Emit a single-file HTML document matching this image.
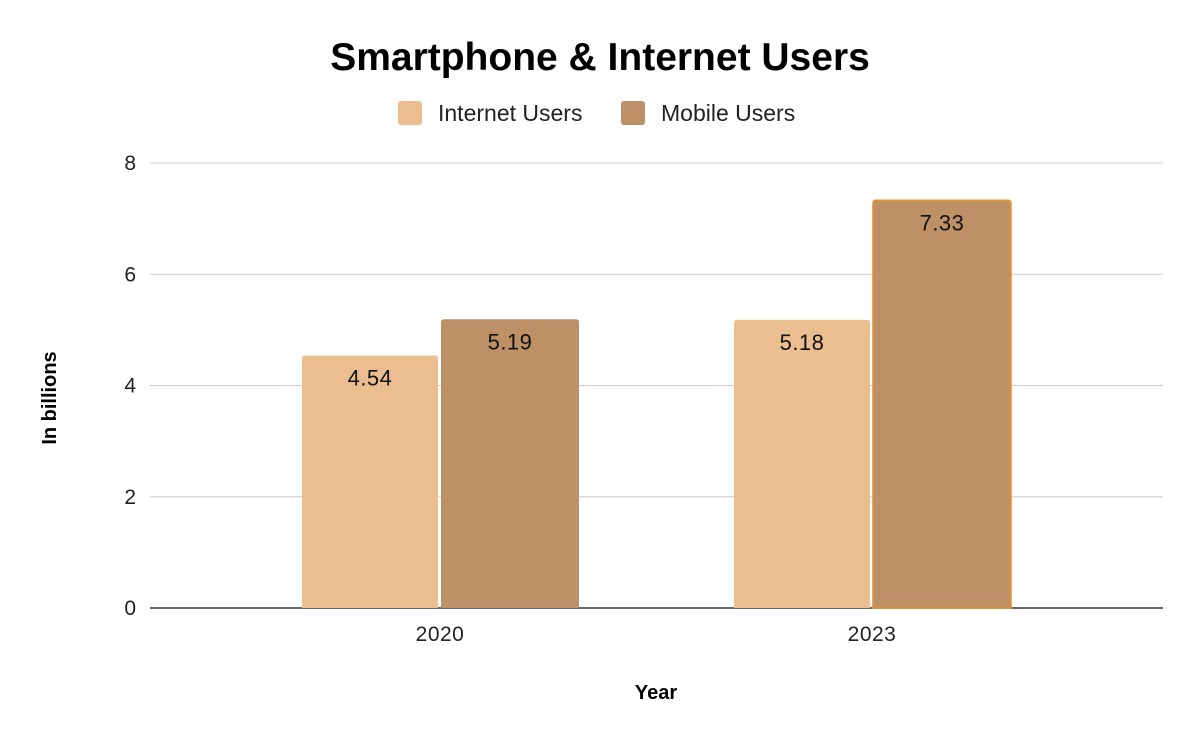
<!DOCTYPE html>
<html><head><meta charset="utf-8"><style>
body{margin:0;background:#fff;}
svg{display:block;font-family:"Liberation Sans",Arial,sans-serif;}
</style></head><body>
<svg id="chart" width="1200" height="742">
<text x="600" y="70" text-anchor="middle" font-size="39" font-weight="bold" fill="#000">Smartphone &amp; Internet Users</text>
<g>
<rect x="398" y="101" width="24" height="24" rx="3" fill="#ebbe90"/>
<text x="438" y="121" font-size="23" fill="#222">Internet Users</text>
<rect x="621" y="101" width="24" height="24" rx="3" fill="#bd9165"/>
<text x="661" y="121" font-size="23" fill="#222">Mobile Users</text>
</g>
<text transform="translate(56,398) rotate(-90)" text-anchor="middle" font-size="20" font-weight="bold">In billions</text>
<text x="656" y="699" text-anchor="middle" font-size="20" font-weight="bold">Year</text>
<g id="grid"></g><g id="bars"></g>
</svg>
<script>
const categories=["2020","2023"];
const internetUsers=[4.54,5.18];
const mobileUsers=[5.19,7.33];
const yTicks=[0,2,4,6,8];
const ns="http://www.w3.org/2000/svg";
const y0=608,yTop=163,yMax=8;
function y(v){return y0-(v/yMax)*(y0-yTop);}
function xc(i){return 440+i*432;}
const grid=document.getElementById('grid'),bars=document.getElementById('bars');
function mk(tag,attrs,parent){const e=document.createElementNS(ns,tag);for(const k in attrs)e.setAttribute(k,attrs[k]);parent.appendChild(e);return e;}
yTicks.forEach(t=>{
 const l=mk('line',{x1:150,x2:1163,y1:y(t),y2:y(t),stroke:t===0?'#333':'#ccc','stroke-width':t===0?1.5:1},grid);
 
 
 const tx=mk('text',{x:136,y:y(t)+7,'text-anchor':'end','font-size':21,fill:'#222'},grid);
 tx.textContent=t;
 
 
});
function bar(x,w,v,color,name,stroke){
 const top=y(v),r=3;
 const p=mk('path',{d:`M${x},${y0}V${top+r}Q${x},${top} ${x+r},${top}H${x+w-r}Q${x+w},${top} ${x+w},${top+r}V${y0}Z`,fill:color},bars);
 if(stroke){p.setAttribute('stroke',stroke);p.setAttribute('stroke-width','1.5');}
 
 
 const t=mk('text',{x:x+w/2,y:top+30,'text-anchor':'middle','font-size':22,'letter-spacing':0.5,fill:'#111'},bars);
 t.textContent=v.toFixed(2);
 
 
}
categories.forEach((c,i)=>{
 const cx=xc(i);
 bar(cx-138,136,internetUsers[i],'#ebbe90','bar-internet-'+c);
 bar(cx+1,138,mobileUsers[i],'#bd9165','bar-mobile-'+c,i===1?'#e8902c':null);
 const t=mk('text',{x:cx,y:641,'text-anchor':'middle','font-size':21,'letter-spacing':0.5,fill:'#222'},bars);
 t.textContent=c;
 
 
});
</script>
</body></html>
